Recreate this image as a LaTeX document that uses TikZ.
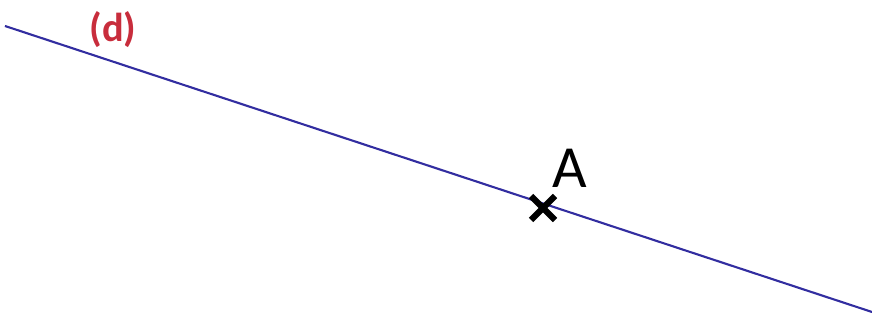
\documentclass[tikz,border=0pt]{standalone}
\usepackage{fontspec}
\setmainfont{Carlito}
\usepackage{xcolor}
\usetikzlibrary{positioning, calc}
\definecolor{droite}{RGB}{50,45,160}
\definecolor{nomd}{RGB}{200,45,60}

\begin{document}
\begin{tikzpicture}
\tikzstyle{line} = [droite, line width=0.6pt]
\tikzstyle{cross} = [black, line width=1.8pt]
\tikzstyle{label} = [inner sep=0pt]

\useasboundingbox (0,0) rectangle (8.72,-3.24);

\coordinate (start) at (0.05,-0.26);
\coordinate (end) at (8.72,-3.12);
\coordinate (A) at (5.43,-2.08);

\draw [line] (start) -- (end);
\draw [cross] ($(A)+(-0.12,0.12)$) -- ($(A)+(0.12,-0.12)$);
\draw [cross] ($(A)+(-0.12,-0.12)$) -- ($(A)+(0.12,0.12)$);

\node (nameA) [label, above right=0.2cm and 0.09cm of A] {\fontsize{17}{19}\selectfont A};
\node (named) [label, nomd] at (1.13,-0.3) {\fontsize{11.5}{14}\selectfont\bfseries (d)};
\end{tikzpicture}
\end{document}
